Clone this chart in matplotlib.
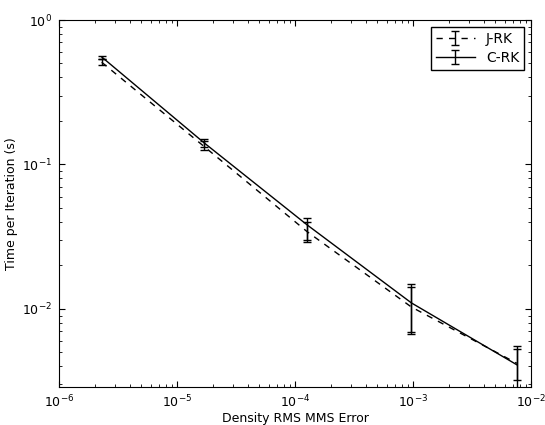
import numpy as np
import matplotlib
matplotlib.use('Agg')
import matplotlib.pyplot as plt

# Density RMS MMS error for each resolution
err_x = [2.3e-6, 1.7e-5, 1.27e-4, 9.7e-4, 7.6e-3]

# Time per iteration (s)
jrk_time = [0.51, 0.133, 0.0342, 0.0103, 0.0042]
jrk_lo = [0.49, 0.126, 0.0300, 0.0067, 0.0028]
jrk_hi = [0.54, 0.145, 0.0400, 0.0142, 0.0053]

crk_time = [0.555, 0.141, 0.0381, 0.0110, 0.0041]
crk_lo = [0.535, 0.132, 0.0291, 0.0069, 0.0032]
crk_hi = [0.565, 0.150, 0.0428, 0.0149, 0.0055]

plt.rcParams['font.family'] = 'DejaVu Sans'
plt.rcParams['font.size'] = 9
plt.rcParams['xtick.direction'] = 'in'
plt.rcParams['ytick.direction'] = 'in'
plt.rcParams['xtick.top'] = True
plt.rcParams['ytick.right'] = True
plt.rcParams['xtick.major.size'] = 4
plt.rcParams['ytick.major.size'] = 4
plt.rcParams['xtick.minor.size'] = 2
plt.rcParams['ytick.minor.size'] = 2
plt.rcParams['xtick.major.pad'] = 5
plt.rcParams['ytick.major.pad'] = 5

fig = plt.figure(figsize=(5.45, 4.25), dpi=100)
ax = fig.add_axes([59 / 545, 38 / 425, 472 / 545, 367 / 425])

jrk_err = [np.array(jrk_time) - np.array(jrk_lo), np.array(jrk_hi) - np.array(jrk_time)]
crk_err = [np.array(crk_time) - np.array(crk_lo), np.array(crk_hi) - np.array(crk_time)]

ax.errorbar(err_x, jrk_time, yerr=jrk_err, color='k', ls=(0, (4.5, 4.5)), lw=1,
            capsize=3, elinewidth=1, label='J-RK')
ax.errorbar(err_x, crk_time, yerr=crk_err, color='k', ls='-', lw=1,
            capsize=3, elinewidth=1, label='C-RK')

ax.set_xscale('log')
ax.set_yscale('log')
ax.set_xlim(1e-6, 1e-2)
ax.set_ylim(2.88e-3, 1)
ax.set_xlabel('Density RMS MMS Error', labelpad=1)
ax.set_ylabel('Time per Iteration (s)', labelpad=3)

leg = ax.legend(loc='upper right', fancybox=False, framealpha=1,
                edgecolor='k', fontsize=10, handlelength=2.8,
                borderaxespad=0.5, borderpad=0.35, labelspacing=0.35)
leg.get_frame().set_linewidth(1)

fig.savefig('out.png', dpi=100)
